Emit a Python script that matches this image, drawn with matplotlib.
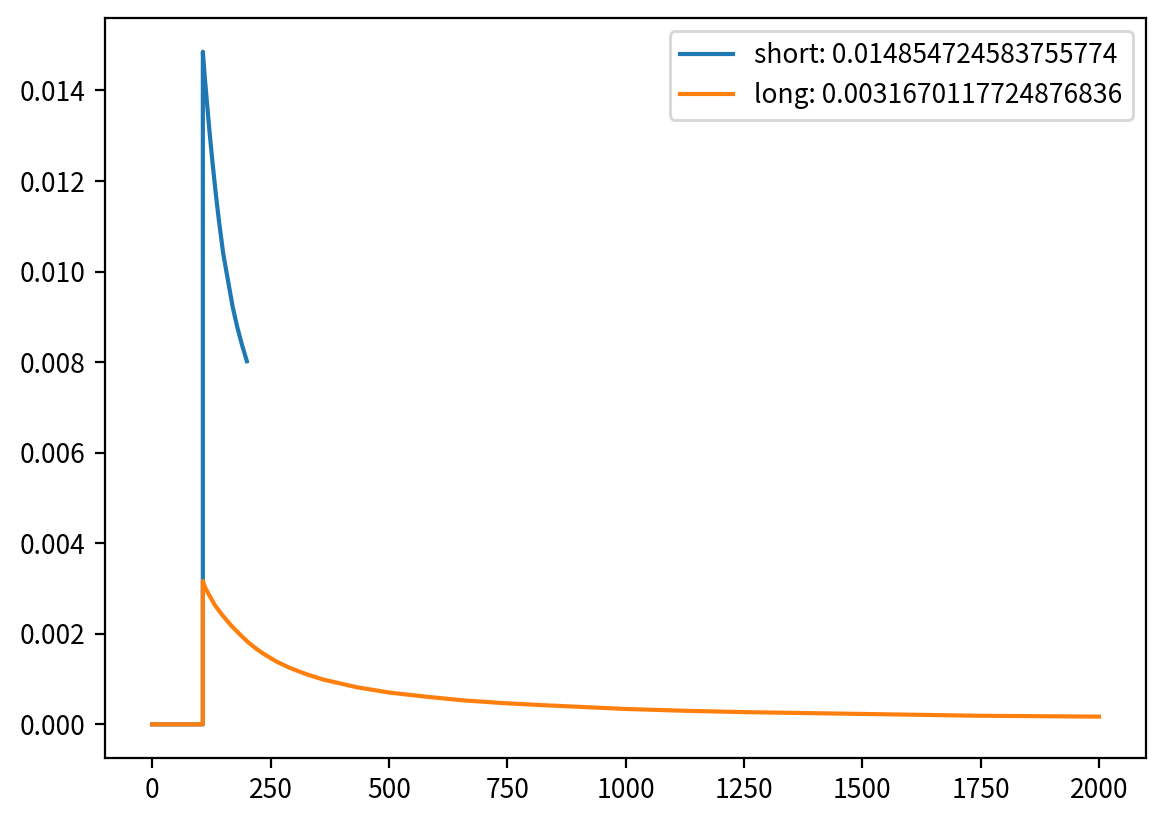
import matplotlib
matplotlib.use("Agg")
import matplotlib.pyplot as plt

plt.rcParams['font.family'] = ['Noto Sans CJK SC', 'DejaVu Sans']
plt.rcParams['font.size'] = 9.5

# short window response
short_x = [0, 107, 107, 111, 115, 121, 127, 134, 141, 150, 161, 170, 180, 190, 200]
short_y = [0, 0, 0.014855, 0.01430, 0.01382, 0.01310, 0.01245, 0.01175, 0.01112,
           0.01040, 0.00975, 0.00922, 0.00876, 0.00837, 0.00802]
short_label = "short: 0.014854724583755774"

# long window response
long_x = [0, 107, 107, 112, 118, 125, 132, 141, 150, 167, 186, 202, 221, 238,
          262, 290, 325, 361, 432, 502, 580, 657, 740, 833, 1000, 1125, 1251,
          1375, 1500, 1747, 2000]
long_y = [0, 0, 0.003167, 0.00302, 0.00290, 0.00277, 0.00264, 0.00251, 0.00239,
          0.00218, 0.00198, 0.00182, 0.00166, 0.00154, 0.00139, 0.00125,
          0.00111, 0.00099, 0.00082, 0.00070, 0.00061, 0.00053, 0.00047,
          0.00042, 0.00034, 0.00030, 0.00027, 0.00025, 0.00023, 0.00019, 0.00017]
long_label = "long: 0.0031670117724876836"

fig = plt.figure(figsize=(5.825, 4.115), dpi=200)
ax = fig.add_axes([0.090, 0.079, 0.894, 0.899])
ax.plot(short_x, short_y, label=short_label)
ax.plot(long_x, long_y, label=long_label)
ax.legend(loc="upper right")

fig.savefig("out.png", dpi=200)
